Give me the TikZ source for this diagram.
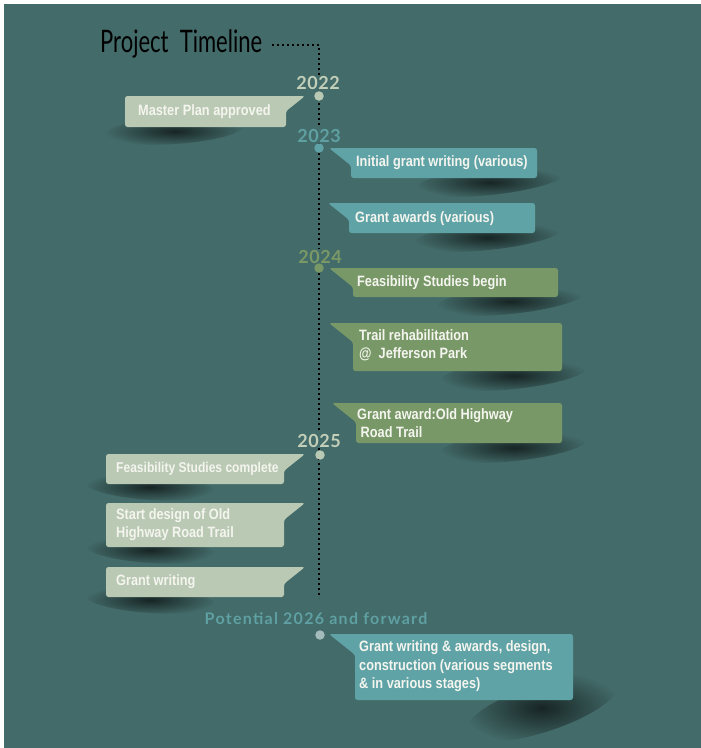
\documentclass[tikz,border=0pt]{standalone}
\usepackage{fontspec}
\setmainfont{Liberation Sans}
\newfontfamily\boxfont{Liberation Sans}[FakeStretch=0.85]
\newfontfamily\yearfont{Lato}[LetterSpace=3]
\newfontfamily\potfont{Lato}[LetterSpace=8]
\newfontfamily\titlefont{Lato}[FakeStretch=0.71]
\usetikzlibrary{fadings}
\definecolor{bg}{HTML}{436B69}
\definecolor{sage}{HTML}{B9C9B4}
\definecolor{sagetxt}{HTML}{C3CFB9}
\definecolor{tealbox}{HTML}{5FA3A6}
\definecolor{tealtxt}{HTML}{5FA0A3}
\definecolor{greenbox}{HTML}{789868}
\definecolor{greentxt}{HTML}{7A9966}
\definecolor{boxtxt}{HTML}{F5F5EF}
\definecolor{dot26}{HTML}{A3BCBB}
\tikzfading[name=shfade, inner color=transparent!35, outer color=transparent!100]
\newcommand{\RBox}[6]{\fill[#6, rounded corners=2.5pt] (#1,#2) -- (#4,#2) -- (#4,#5) -- (#3,#5) -- (#3,{#2+0.8*(#3-#1)}) -- cycle;}
\newcommand{\LBox}[6]{\fill[#6, rounded corners=2.5pt] (#1,#2) -- (#3,#2) -- (#3,#5) -- (#4,#5) -- (#4,{#2+0.8*(#1-#4)}) -- cycle;}
\newcommand{\Shad}[5]{\fill[black, path fading=shfade, rotate around={#5:(#1,#2)}] (#1,#2) ellipse [x radius=#3, y radius=#4];}
\tikzset{
  boxtext/.style={anchor=base west, inner sep=0pt, text=boxtxt, align=left,
    font=\boxfont\bfseries\fontsize{15}{18.5}\selectfont},
  yearlbl/.style={fill=bg, inner sep=1pt, font=\yearfont\bfseries\fontsize{18}{20}\selectfont},
  tldot/.style={circle, inner sep=0pt, minimum size=9.5pt},
  dotline/.style={line width=2pt, dash pattern=on 2pt off 3pt, black}
}
\begin{document}
\begin{tikzpicture}[x=1pt,y=-1pt]
\useasboundingbox (0,0) rectangle (701,748);
\fill[white] (0,0) rectangle (701,748);
\fill[bg] (4,4) rectangle (701,748);

% title and timeline
\node[anchor=base west, inner sep=0pt, font=\titlefont\fontsize{31}{34}\selectfont, text=black] (title) at (100,52) {Project\ \ Timeline};
\coordinate (tend) at (272,45);
\coordinate (corner) at (319,45);
\coordinate (lineend) at (319,598);
\draw[dotline] (tend) -- (corner) -- (lineend);

% shadows
\Shad{175}{130}{70}{14}{4}
\Shad{490}{181}{75}{14}{6}
\Shad{488}{236}{75}{14}{6}
\Shad{510}{300}{75}{14}{6}
\Shad{514}{374}{75}{15}{6}
\Shad{514}{446}{75}{15}{6}
\Shad{150}{487}{65}{13}{-4}
\Shad{150}{550}{65}{13}{-4}
\Shad{150}{600}{65}{13}{-4}
\Shad{542}{708}{80}{24}{18}

% year labels
\node[yearlbl, text=sagetxt] (y2022) at (318,83) {2022};
\node[yearlbl, text=tealtxt] (y2023) at (319,135.5) {2023};
\node[yearlbl, text=greentxt] (y2024) at (320,256.5) {2024};
\node[yearlbl, text=sagetxt] (y2025) at (319,440.5) {2025};
\node[yearlbl, text=tealtxt, font=\potfont\bfseries\fontsize{16}{18}\selectfont] (y2026) at (316,618.5) {Potential 2026 and forward};

% dots
\node[tldot, fill=sage] (d2022) at (319,96) {};
\node[tldot, fill=tealbox] (d2023) at (319,148) {};
\node[tldot, fill=greenbox] (d2024) at (319,268) {};
\node[tldot, fill=sage] (d2025) at (320,455) {};
\node[tldot, fill=dot26] (d2026) at (320,635) {};

% boxes
\LBox{305}{96}{125}{286}{127}{sage}
\node[boxtext] (b1) at (138,115.3) {Master Plan approved};

\RBox{329}{148}{351}{537}{178}{tealbox}
\node[boxtext] (b2) at (356,166) {Initial grant writing (various)};

\RBox{328}{203}{349}{535}{233}{tealbox}
\node[boxtext] (b3) at (355,222.5) {Grant awards (various)};

\RBox{329}{268}{353}{558}{297}{greenbox}
\node[boxtext] (b4) at (357,286.5) {Feasibility Studies begin};

\RBox{329}{323}{353}{562}{371}{greenbox}
\node[boxtext] (b5) at (359,358.5) {Trail rehabilitation\\@\ \ Jefferson Park};

\RBox{332}{403}{356}{562}{443}{greenbox}
\node[boxtext] (b6) at (357,437.5) {Grant award:Old Highway\\\ Road Trail};

\LBox{305}{454}{106}{284}{484}{sage}
\node[boxtext, font=\boxfont\bfseries\fontsize{14.2}{18}\selectfont] (b7) at (116,472.5) {Feasibility Studies complete};

\LBox{305}{503}{106}{284}{547}{sage}
\node[boxtext] (b8) at (116,537.5) {Start design of Old\\Highway Road Trail};

\LBox{305}{567}{106}{284}{597}{sage}
\node[boxtext] (b9) at (116,585.5) {Grant writing};

\RBox{329}{634}{355}{573}{700}{tealbox}
\node[boxtext] (b10) at (359,688.5) {Grant writing \& awards, design,\\construction (various segments\\\& in various stages)};
\end{tikzpicture}
\end{document}
